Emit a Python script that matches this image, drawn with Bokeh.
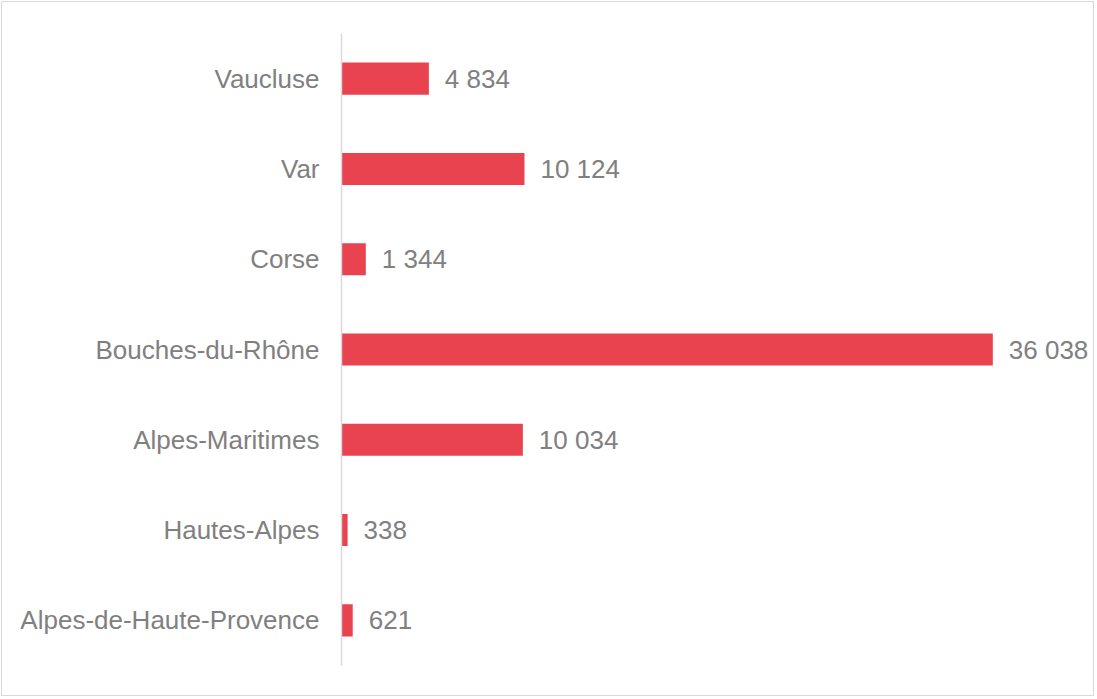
from bokeh.plotting import figure
from bokeh.models import ColumnDataSource, FactorRange, Range1d
from bokeh.core.properties import value
from bokeh.embed import file_html
from bokeh.resources import INLINE

# Data (bottom to top)
departements = ["Alpes-de-Haute-Provence", "Hautes-Alpes", "Alpes-Maritimes",
                "Bouches-du-Rhône", "Corse", "Var", "Vaucluse"]
effectifs = [621, 338, 10034, 36038, 1344, 10124, 4834]
labels = [f"{v:,}".replace(",", " ") for v in effectifs]

FONT = "Liberation Sans"
GRAY = "#808080"

src = ColumnDataSource(dict(dep=departements, val=effectifs, lab=labels))

p = figure(width=1093, height=695, output_backend="svg", toolbar_location=None,
           y_range=FactorRange(factors=departements), x_range=Range1d(0, 41720),
           min_border_left=339, min_border_right=0, min_border_top=31, min_border_bottom=32)
p.styles = {"border": "1px solid #d9d9d9", "margin-left": "1px", "margin-top": "1px"}

p.hbar(y="dep", right="val", height=0.355, left=0, source=src,
       fill_color="#E8434F", line_color=None)
p.text(x="val", y="dep", text="lab", source=src, x_offset=16,
       text_baseline="middle", text_align="left", text_color=GRAY,
       text_font=value(FONT), text_font_size="26px")

p.xaxis.visible = False
p.xgrid.visible = False
p.ygrid.visible = False
p.outline_line_color = None

ya = p.yaxis[0]
ya.axis_line_color = "#d9d9d9"
ya.axis_line_width = 1.5
ya.major_tick_line_color = None
ya.minor_tick_line_color = None
ya.major_tick_out = 0
ya.major_tick_in = 0
ya.major_label_standoff = 22
ya.major_label_text_color = GRAY
ya.major_label_text_font = FONT
ya.major_label_text_font_size = "26px"

open("out.html", "w").write(file_html(p, INLINE))
